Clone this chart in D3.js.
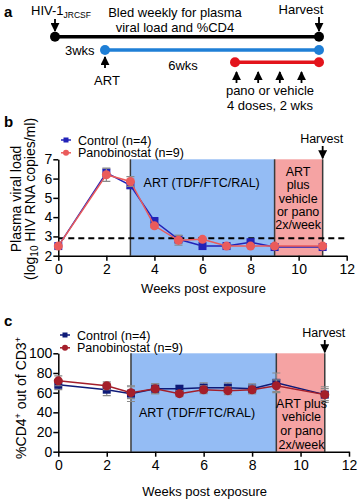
<!DOCTYPE html>
<html>
<head>
<meta charset="utf-8">
<script src="https://cdn.jsdelivr.net/npm/d3@7"></script>
<style>
  body { margin: 0; background: #fff; }
  svg { font-family: "Liberation Sans", Arial, sans-serif; }
  .tick text { font-size: 14px; }
</style>
</head>
<body>
<div id="chart"></div>
<script>
// data
var weeks = [0, 2, 3, 4, 5, 6, 7, 8, 9, 11];
var vlControl = [2.5, 6.3, 5.65, 3.8, 2.85, 2.5, 2.5, 2.7, 2.45, 2.45];
var vlPano = [2.5, 6.2, 5.85, 3.55, 2.8, 2.85, 2.5, 2.5, 2.5, 2.5];
var vlErrControl = [0, 0.2, 0.15, 0.1, 0.2, 0.05, 0.05, 0.05, 0.05, 0.05];
var vlErrPano = [0, 0.35, 0.25, 0.1, 0.25, 0.05, 0.05, 0.05, 0.05, 0.05];
var cdControl = [68, 63, 59, 64, 64, 65, 65, 64, 70, 58];
var cdPano = [72, 67, 60, 64, 59, 63, 62, 63, 67, 58];
var cdErrControl = [5, 6, 8, 5, 3, 5, 5, 5, 10, 8];
var cdErrPano = [5, 4, 6, 5, 3, 4, 4, 4, 6, 6];
var xTicks = [0, 2, 4, 6, 8, 10, 12];
var vlTicks = [2, 3, 4, 5, 6, 7];
var cdTicks = [0, 20, 40, 60, 80, 100];
var detectionLimit = 2.9;
var artStart = 3, panoStart = 9, harvest = 11;
var doseWeeks = [0, 1, 2, 3];

var W = 359, H = 501;
var svg = d3.select("#chart").append("svg").attr("width", W).attr("height", H);

var defs = svg.append("defs");
defs.append("marker").attr("id", "arr")
    .attr("viewBox", "0 0 10 10").attr("refX", 9).attr("refY", 5)
    .attr("markerWidth", 5).attr("markerHeight", 5).attr("orient", "auto")
    .append("path").attr("d", "M0,0L10,5L0,10z").attr("fill", "#000");

function arrow(x1, y1, x2, y2) {
    svg.append("line").attr("x1", x1).attr("y1", y1).attr("x2", x2).attr("y2", y2)
        .attr("stroke", "#000").attr("stroke-width", 1.8).attr("marker-end", "url(#arr)");
}
function txt(x, y, s, size, anchor) {
    return svg.append("text").attr("x", x).attr("y", y).attr("font-size", size)
        .attr("text-anchor", anchor || "middle").text(s);
}

// ---- panel a: timeline (not to scale, so piecewise)
txt(4, 17, "a", 15, "start").attr("font-weight", "bold");
var hiv = txt(31, 14.5, "HIV-1", 13, "start");
hiv.append("tspan").attr("dy", 3).attr("font-size", 8.5).text("JRCSF");
txt(175, 16.5, "Bled weekly for plasma", 13);
txt(175, 32, "viral load and %CD4", 13);
txt(301, 13.5, "Harvest", 13);
var tx = d3.scaleLinear().domain([0, artStart, panoStart, harvest]).range([55, 105, 235, 319]);
arrow(tx(0), 19, tx(0), 31);
arrow(tx(harvest), 17, tx(harvest), 31);
var tl = [[0, 36.7, "#000"], [artStart, 50, "#1f7fd6"], [panoStart, 62.3, "#e3141c"]];
tl.forEach(function (d) {
    svg.append("line").attr("x1", tx(d[0])).attr("x2", tx(harvest)).attr("y1", d[1]).attr("y2", d[1])
        .attr("stroke", d[2]).attr("stroke-width", 3.5);
    svg.append("circle").attr("cx", tx(d[0])).attr("cy", d[1]).attr("r", 5).attr("fill", d[2]);
    svg.append("circle").attr("cx", tx(harvest)).attr("cy", d[1]).attr("r", 5).attr("fill", d[2]);
});
txt(65, 55, "3wks", 13, "start");
arrow(tx(artStart), 68, tx(artStart), 57);
txt(tx(artStart) + 2, 85, "ART", 13);
txt(183, 70, "6wks", 13);
var dx = d3.scaleLinear().domain([0, 3]).range([236.5, 301.5]);
doseWeeks.forEach(function (d) { arrow(dx(d), 83, dx(d), 72); });
txt(270, 95, "pano or vehicle", 13);
txt(270, 110, "4 doses, 2 wks", 13);

// ---- helper to draw a panel
function panel(opt) {
    var x = d3.scaleLinear().domain([0, 12]).range(opt.xr);
    var y = d3.scaleLinear().domain(opt.yd).range(opt.yr);
    var g = svg.append("g");
    g.append("rect").attr("x", x(artStart)).attr("width", x(panoStart) - x(artStart))
        .attr("y", y(opt.yd[1])).attr("height", y(opt.yd[0]) - y(opt.yd[1])).attr("fill", "#94bcf4");
    g.append("rect").attr("x", x(panoStart)).attr("width", x(harvest) - x(panoStart))
        .attr("y", y(opt.yd[1])).attr("height", y(opt.yd[0]) - y(opt.yd[1])).attr("fill", "#f5a3a3");
    [artStart, panoStart, harvest].forEach(function (w) {
        g.append("line").attr("x1", x(w)).attr("x2", x(w)).attr("y1", y(opt.yd[0])).attr("y2", y(opt.yd[1]))
            .attr("stroke", "#3a3a3a").attr("stroke-width", 1.5);
    });
    g.append("g").attr("transform", "translate(0," + opt.yr[0] + ")")
        .call(d3.axisBottom(x).tickValues(xTicks).tickFormat(d3.format("d")).tickSize(5).tickSizeOuter(0).tickPadding(3))
        .call(a => a.selectAll("path,line").attr("stroke-width", 1.5));
    g.append("g").attr("transform", "translate(" + opt.xr[0] + ",0)")
        .call(d3.axisLeft(y).tickValues(opt.ticks).tickFormat(d3.format("d")).tickSize(5).tickSizeOuter(0).tickPadding(1))
        .call(a => a.selectAll("path,line").attr("stroke-width", 1.5));
    if (opt.dash !== undefined) {
        g.append("line").attr("x1", x(0)).attr("x2", x(12)).attr("y1", y(opt.dash)).attr("y2", y(opt.dash))
            .attr("stroke", "#000").attr("stroke-width", 2).attr("stroke-dasharray", "6,4");
    }
    opt.series.forEach(function (s) {
        var pts = weeks.map(function (w, i) { return [w, s.v[i], s.e[i]]; });
        g.append("path").datum(pts).attr("fill", "none").attr("stroke", s.c).attr("stroke-width", 1.5)
            .attr("d", d3.line().x(d => x(d[0])).y(d => y(d[1])));
        pts.forEach(function (d) {
            if (d[2] > 0) {
                g.append("path").attr("stroke", "#8a8a8a").attr("stroke-width", 1.2).attr("fill", "none")
                    .attr("d", "M" + (x(d[0]) - 4) + "," + y(d[1] + d[2]) + "h8M" + x(d[0]) + "," + y(d[1] + d[2]) +
                        "V" + y(d[1] - d[2]) + "M" + (x(d[0]) - 4) + "," + y(d[1] - d[2]) + "h8");
            }
        });
        pts.forEach(function (d) {
            if (s.shape === "sq") {
                g.append("rect").attr("x", x(d[0]) - 4).attr("y", y(d[1]) - 4).attr("width", 8).attr("height", 8).attr("fill", s.c);
            } else {
                g.append("circle").attr("cx", x(d[0])).attr("cy", y(d[1])).attr("r", 4.5).attr("fill", s.c);
            }
        });
    });
    // legend
    opt.series.forEach(function (s, i) {
        var ly = opt.legY + i * 12.8, lx = opt.legX;
        g.append("line").attr("x1", lx - 5).attr("x2", lx + 5).attr("y1", ly).attr("y2", ly).attr("stroke", s.c).attr("stroke-width", 1.5);
        if (s.shape === "sq") g.append("rect").attr("x", lx - 2.5).attr("y", ly - 2.5).attr("width", 5).attr("height", 5).attr("fill", s.c);
        else g.append("circle").attr("cx", lx).attr("cy", ly).attr("r", 3).attr("fill", s.c);
        g.append("text").attr("x", lx + 12).attr("y", ly + 4.5).attr("font-size", 12.5).text(s.name);
    });
    txt(x(harvest) - 1, opt.harvY, "Harvest", 12.5);
    arrow(x(harvest), opt.harvY + 3, x(harvest), y(opt.yd[1]) - 1);
    txt((x(0) + x(12)) / 2 + 1, opt.xtY, "Weeks post exposure", 13);
    return { x: x, y: y };
}

// ---- panel b
txt(4, 127, "b", 15, "start").attr("font-weight", "bold");
var pb = panel({
    xr: [58.3, 346.7], yd: [2, 7], yr: [255.7, 159.3], ticks: vlTicks, dash: detectionLimit,
    legX: 66, legY: 140, harvY: 143, xtY: 293,
    series: [
        { name: "Control (n=4)", v: vlControl, e: vlErrControl, c: "#2222b8", shape: "sq" },
        { name: "Panobinostat (n=9)", v: vlPano, e: vlErrPano, c: "#ea5b5b", shape: "ci" }
    ]
});
txt(201.7, 187, "ART (TDF/FTC/RAL)", 12.5);
["ART", "plus", "vehicle", "or pano", "2x/week"].forEach(function (s, i) {
    txt(pb.x(10) - 0.5, 176 + i * 13.3, s, 12.5);
});
var yb = svg.append("text").attr("transform", "translate(21,199) rotate(-90)").attr("text-anchor", "middle").attr("font-size", 14);
yb.append("tspan").attr("x", 0).attr("y", 0).text("Plasma viral load");
var yb2 = yb.append("tspan").attr("x", 0).attr("y", 14).text("(log");
yb2.append("tspan").attr("dy", 3).attr("font-size", 10).text("10");
yb.append("tspan").attr("dy", -3).text(" HIV RNA copies/ml)");

// ---- panel c
txt(4, 326, "c", 15, "start").attr("font-weight", "bold");
var pc = panel({
    xr: [58.3, 349], yd: [0, 100], yr: [451.7, 353.3], ticks: cdTicks,
    legX: 65, legY: 335, harvY: 337, xtY: 496,
    series: [
        { name: "Control (n=4)", v: cdControl, e: cdErrControl, c: "#0e1a78", shape: "sq" },
        { name: "Panobinostat (n=9)", v: cdPano, e: cdErrPano, c: "#a41e2a", shape: "ci" }
    ]
});
txt(197, 417, "ART (TDF/FTC/RAL)", 12.5);
["ART plus", "vehicle", "or pano", "2x/week"].forEach(function (s, i) {
    txt(pc.x(10) + 1, 407.5 + i * 13.7, s, 12.5);
});
var yc = svg.append("text").attr("transform", "translate(26,398) rotate(-90)").attr("text-anchor", "middle").attr("font-size", 14);
yc.append("tspan").text("%CD4");
yc.append("tspan").attr("dy", -5).attr("font-size", 9).text("+");
yc.append("tspan").attr("dy", 5).text(" out of CD3");
yc.append("tspan").attr("dy", -5).attr("font-size", 9).text("+");
</script>
</body>
</html>
